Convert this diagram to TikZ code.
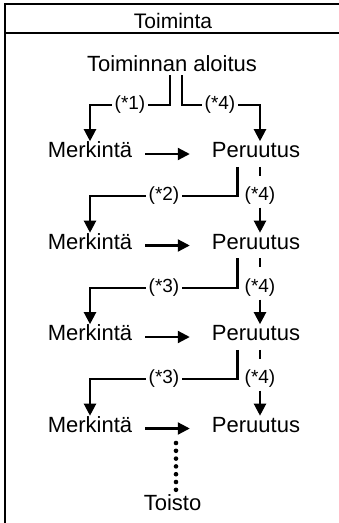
\documentclass[tikz,border=0pt]{standalone}
\usepackage{fontspec}
\setmainfont{Liberation Sans}
\usetikzlibrary{positioning,arrows.meta,calc}

\begin{document}
\begin{tikzpicture}[x=1pt, y=-1pt,
    item/.style={inner xsep=3pt, inner ysep=9pt, text height=0.72em, text depth=0pt,
                 font=\fontsize{22}{26}\selectfont},
    tag/.style={fill=white, inner sep=2.5pt, font=\fontsize{19}{22}\selectfont},
    link/.style={line width=2.2pt},
    flow/.style={link, -{Triangle[length=12pt, width=12pt]}},
    side/.style={flow, shorten <=10pt, shorten >=19pt}]
    \useasboundingbox (0,0) rectangle (339,523);

    % frame and header
    \draw[line width=1.7pt] (339,4) -- (5,4) -- (5,523);
    \draw[line width=1.7pt] (5,33) -- (339,33);
    \node[font=\fontsize{21}{24}\selectfont, anchor=base] (title) at (173,28) {Toiminta};

    \node[item, inner ysep=4pt] (start) at (172,67.5) {Toiminnan aloitus};

    % rows
    \node[item] (m1) at (90,154) {Merkintä};
    \node[item] (p1) at (256,154) {Peruutus};
    \node[item] (m2) at (90,245.5) {Merkintä};
    \node[item] (p2) at (256,245.5) {Peruutus};
    \node[item] (m3) at (90,337) {Merkintä};
    \node[item] (p3) at (256,337) {Peruutus};
    \node[item] (m4) at (90,428.5) {Merkintä};
    \node[item] (p4) at (256,428.5) {Peruutus};
    \node[item, anchor=base, inner ysep=3pt] (toisto) at (172.5,510) {Toisto};

    \coordinate (rc) at (260,0);

    % start branches
    \coordinate (c1) at (170,105);
    \coordinate (c4) at (182,105);
    \draw[flow] (start.south -| c1) -- (c1) -| (m1.north);
    \draw[flow] (start.south -| c4) -- (c4) -| (rc |- p1.north);
    \node[tag] (t1) at (130,105) {(*1)};
    \node[tag] (t4) at (220,105) {(*4)};

    % Merkinta to Peruutus
    \draw[side] (m1) -- (p1);
    \draw[side] (m2) -- (p2);
    \draw[side] (m3) -- (p3);
    \draw[side] (m4) -- (p4);

    % Peruutus back to Merkinta
    \coordinate (k1) at (237.5,196);
    \coordinate (k2) at (237.5,288);
    \coordinate (k3) at (237.5,379);
    \draw[flow] (p1.south -| k1) -- (k1) -| (m2.north);
    \draw[flow] (p2.south -| k2) -- (k2) -| (m3.north);
    \draw[flow] (p3.south -| k3) -- (k3) -| (m4.north);
    \node[tag] (r1) at (164,196) {(*2)};
    \node[tag] (r2) at (164,288) {(*3)};
    \node[tag] (r3) at (164,379) {(*3)};

    % Peruutus to Peruutus
    \node[tag] (s1) at (260,196) {(*4)};
    \node[tag] (s2) at (260,288) {(*4)};
    \node[tag] (s3) at (260,379) {(*4)};
    \draw[link, dash pattern=on 9pt off 40pt] (rc |- p1.south) -- (s1.north);
    \draw[link, dash pattern=on 9pt off 40pt] (rc |- p2.south) -- (s2.north);
    \draw[link, dash pattern=on 9pt off 40pt] (rc |- p3.south) -- (s3.north);
    \draw[flow] (s1.south) -- (rc |- p2.north);
    \draw[flow] (s2.south) -- (rc |- p3.north);
    \draw[flow] (s3.south) -- (rc |- p4.north);

    % repeat
    \coordinate (rep) at (176,443);
    \draw[line width=4.6pt, line cap=round, dash pattern=on 0pt off 7.8pt, shorten >=8pt]
        (rep) -- (rep |- toisto.north);
\end{tikzpicture}
\end{document}
